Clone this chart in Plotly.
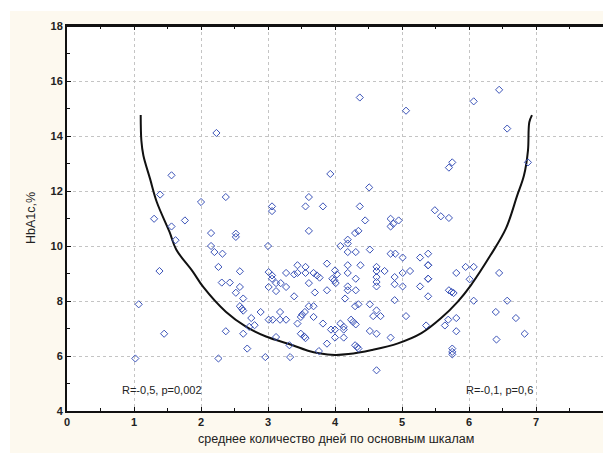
import plotly.graph_objects as go

# Scatter data: average days (x) vs HbA1c % (y)
days = [1.02, 1.07, 1.38, 1.45, 1.30, 1.39, 1.56, 1.56, 1.62, 1.76, 2.00, 2.23, 2.37,
        2.15, 2.52, 2.52, 2.15, 2.20, 2.32, 2.26, 2.58, 2.31, 2.43, 2.58, 2.52, 2.63, 2.58, 2.61, 2.63,
        2.89, 2.75, 2.37, 2.63, 2.72, 2.80, 2.69, 2.26, 2.96, 3.00, 3.01, 3.06, 3.06, 3.01, 3.12, 3.19,
        3.12, 3.27, 3.27, 3.39, 3.44, 3.39, 3.44, 3.56, 3.56, 3.61, 3.61, 3.55, 3.51, 3.49, 3.01, 3.07,
        3.18, 3.27, 3.18, 3.44, 3.49, 3.54, 3.56, 3.12, 3.32, 3.33, 3.61,
        4.37, 3.93, 4.51, 3.61, 3.06, 3.06, 3.56, 3.82, 4.37, 4.45, 4.83, 4.83, 4.95, 4.87,
        6.45, 6.07, 5.06, 6.57, 5.70, 5.75, 6.88, 5.49, 5.58, 5.70,
        4.30, 4.35, 4.08, 4.19, 4.19, 4.19, 4.31, 4.52, 4.83, 4.90, 5.01, 5.27, 5.39, 3.88, 4.19, 4.38,
        4.62, 4.62, 4.74, 5.39, 3.68, 3.73, 3.77, 4.00, 4.03, 3.96, 3.99, 4.01, 4.19, 4.31, 4.62, 4.62,
        4.62, 5.01, 5.12, 4.89, 4.89, 5.01, 5.39, 5.27, 3.88, 3.70, 4.19, 4.19, 4.31, 5.39, 4.15, 4.89,
        4.30, 4.35, 4.52, 4.62, 4.57, 4.68, 3.68, 3.68, 3.82, 4.08, 4.13, 4.24, 4.27, 4.31, 3.94, 4.00,
        4.13, 5.06, 4.00, 4.13, 4.52, 4.62, 4.83, 3.88, 4.30, 4.33, 4.35, 3.76, 4.62, 5.36, 5.39, 5.39,
        5.81, 5.95, 6.07, 6.01, 6.45, 5.70, 5.74, 5.77, 6.07, 6.57, 6.40, 6.70, 5.69, 5.81, 5.64, 5.81,
        6.41, 6.83, 5.75, 5.75, 5.75]
hba1c = [5.91, 7.88, 9.09, 6.81, 10.99, 11.87, 12.57, 10.71, 10.21, 10.93, 11.60, 14.11, 11.78,
         10.47, 10.45, 10.33, 10.00, 9.78, 9.72, 9.24, 9.08, 8.67, 8.67, 8.51, 8.30, 8.09, 7.81, 7.72, 7.65,
         7.60, 7.38, 6.90, 6.81, 7.06, 7.12, 6.27, 5.91, 5.96, 10.00, 9.05, 8.93, 8.81, 8.51, 8.65, 8.65,
         8.36, 9.02, 8.51, 8.17, 9.30, 8.97, 9.02, 9.24, 9.02, 8.65, 7.81, 7.60, 7.51, 7.42, 7.32, 7.32,
         7.32, 7.32, 7.60, 7.18, 6.81, 6.71, 6.65, 6.69, 6.39, 5.96, 10.55,
         15.40, 12.62, 12.13, 11.78, 11.44, 11.27, 11.44, 11.44, 11.44, 10.93, 10.99, 10.71, 10.93, 10.81,
         15.68, 15.26, 14.92, 14.27, 12.85, 13.04, 13.04, 11.30, 11.08, 11.02,
         10.47, 10.55, 10.00, 10.23, 10.09, 9.78, 9.78, 9.87, 9.72, 9.72, 9.58, 9.58, 9.72, 9.36, 9.30, 9.30,
         9.24, 9.09, 9.09, 9.30, 9.02, 8.93, 8.85, 9.11, 8.97, 8.81, 8.75, 8.65, 9.02, 8.81, 8.87, 8.69,
         8.53, 9.02, 9.09, 8.87, 8.61, 8.53, 8.81, 8.53, 8.39, 8.31, 8.53, 8.39, 8.39, 8.17, 8.09, 8.03,
         7.81, 7.88, 7.88, 7.66, 7.45, 7.45, 7.81, 7.42, 7.18, 7.18, 7.06, 7.32, 7.24, 7.15, 6.96, 6.96,
         6.96, 7.45, 6.67, 6.67, 6.91, 6.81, 6.67, 6.45, 6.39, 6.33, 6.27, 6.18, 5.48, 7.11, 9.30, 8.81,
         9.02, 9.24, 9.24, 8.79, 9.02, 8.39, 8.33, 8.29, 8.01, 8.01, 7.60, 7.38, 7.32, 7.38, 7.11, 6.90,
         6.60, 6.81, 6.27, 6.15, 6.06]

# Fitted curve
curve_x = [1.10, 1.11, 1.14, 1.24, 1.34, 1.53, 1.63, 1.88, 2.03, 2.37, 2.67, 2.97, 3.36, 3.61,
           3.76, 4.00, 4.20, 4.55, 4.94, 5.29, 5.58, 5.83, 6.03, 6.32, 6.55, 6.72, 6.82, 6.88, 6.90, 6.94]
curve_y = [14.76, 13.83, 13.29, 12.44, 11.60, 10.51, 9.87, 9.06, 8.52, 7.61, 7.07, 6.71, 6.40, 6.18,
           6.10, 6.04, 6.07, 6.22, 6.46, 6.83, 7.37, 7.97, 8.58, 9.66, 10.63, 11.84, 12.56, 13.47, 14.50, 14.76]

x_ticks = [0, 1, 2, 3, 4, 5, 6, 7, 8]
y_ticks = [4, 6, 8, 10, 12, 14, 16, 18]

ann_left = "R=-0,5, p=0,002"
ann_right = "R=-0,1, p=0,6"
x_title = "среднее количество дней по основным шкалам"
y_title = "HbA1c,%"

cream = "#FDF9EF"
font_family = "Liberation Sans, Arial, sans-serif"

fig = go.Figure()
fig.add_trace(go.Scatter(x=curve_x, y=curve_y, mode="lines", line_shape="spline",
                         line=dict(color="#111111", width=2), hoverinfo="skip"))
fig.add_trace(go.Scatter(x=days, y=hba1c, mode="markers",
                         marker=dict(symbol="diamond-open", size=5.5, color="#3B53B8",
                                     line=dict(width=1, color="#3B53B8"))))

L, T, W_PLOT, H_PLOT = 67, 26, 536, 385
fig.update_layout(
    width=603, height=457,
    margin=dict(l=L, r=603 - L - W_PLOT, t=T, b=457 - T - H_PLOT, autoexpand=False),
    paper_bgcolor=cream, plot_bgcolor="white",
    showlegend=False,
    font=dict(family=font_family, color="#222222"),
)
common_axis = dict(showline=True, linewidth=2, linecolor="#111111",
                   ticks="inside", ticklen=4, tickcolor="#111111", tickwidth=1,
                   showgrid=True, gridcolor="#C4C4C4", griddash="dot", gridwidth=1,
                   zeroline=False, automargin=False,
                   tickfont=dict(size=11, family=font_family, color="#222222", weight="bold"))
fig.update_xaxes(range=[0, 8], tickvals=x_ticks, ticktext=[str(v) for v in x_ticks], mirror="allticks",
                 minor=dict(dtick=0.5, ticks="inside", ticklen=3, tickcolor="#111111", showgrid=False),
                 **common_axis)
fig.update_yaxes(range=[4, 18], tickvals=y_ticks, ticktext=[str(v) for v in y_ticks], mirror=False,
                 minor=dict(dtick=1, ticks="inside", ticklen=3, tickcolor="#111111", showgrid=False),
                 **common_axis)

# white outer frame around the cream panel
def px_x(p):
    return (p - L) / W_PLOT

def px_y(p):
    return (T + H_PLOT - p) / H_PLOT

for x0, x1, y0, y1 in [(0, 10, 0, 457), (0, 603, 0, 11), (0, 603, 453, 457)]:
    fig.add_shape(type="rect", xref="paper", yref="paper", layer="below",
                  x0=px_x(x0), x1=px_x(x1), y0=px_y(y1), y1=px_y(y0),
                  fillcolor="white", line=dict(width=0))

# top frame line
fig.add_shape(type="line", xref="paper", yref="paper", x0=-0.002, x1=1, y0=1, y1=1,
              line=dict(color="#111111", width=2), layer="above")

fig.add_annotation(x=1.42, y=4.75, text=ann_left, showarrow=False,
                   xanchor="center", yanchor="middle",
                   font=dict(size=11, color="#222222"))
fig.add_annotation(x=6.45, y=4.75, text=ann_right, showarrow=False,
                   xanchor="center", yanchor="middle",
                   font=dict(size=11, color="#222222"))
fig.add_annotation(xref="paper", yref="paper", x=px_x(336), y=px_y(439), text=x_title,
                   xanchor="center", yanchor="middle",
                   showarrow=False, font=dict(size=12.5, color="#222222"))
fig.add_annotation(xref="paper", yref="paper", x=px_x(31), y=px_y(218), text=y_title,
                   xanchor="center", yanchor="middle",
                   textangle=-90, showarrow=False, font=dict(size=12.5, color="#222222"))

fig.write_html("out.html", config={"displayModeBar": False},
               post_script="document.body.style.margin='0px';document.body.style.overflow='hidden';")
